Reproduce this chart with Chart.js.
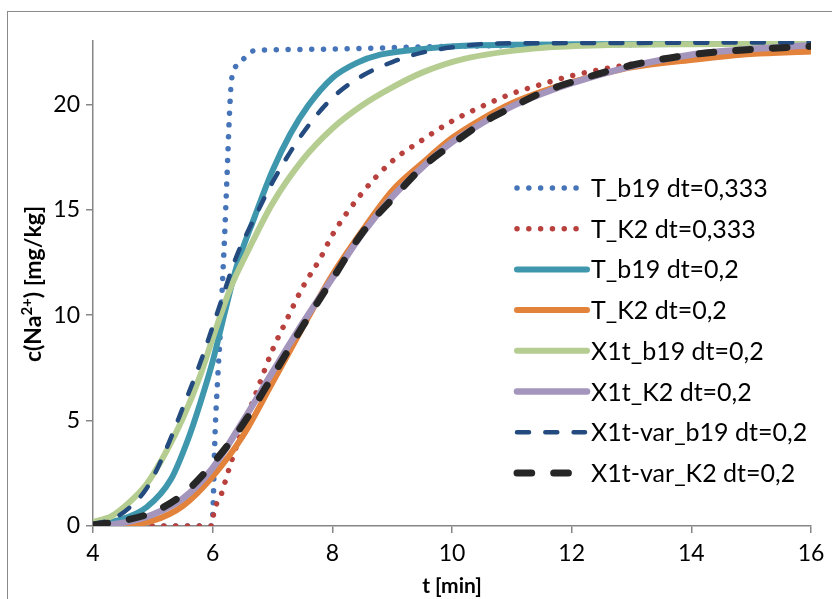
<!DOCTYPE html>
<html>
<head>
<meta charset="utf-8">
<script src="https://cdn.jsdelivr.net/npm/chart.js@4.4.1/dist/chart.umd.min.js"></script>
<style>
  html, body { margin: 0; padding: 0; background: #fff; }
  #wrap { position: relative; width: 832px; height: 599px; overflow: hidden; }
  #frame { position: absolute; left: 7px; top: 11px; right: -10px; bottom: -10px;
           border-left: 1.5px solid #8a8a8a; border-top: 1.5px solid #8a8a8a; }
  canvas { position: absolute; left: 0; top: 0; }
</style>
</head>
<body>
<div id="wrap">
  <div id="frame"></div>
  <canvas id="chart" width="832" height="599"></canvas>
</div>
<script>
// --- dados ---
const seriesNames = ['T_b19 dt=0,333', 'T_K2 dt=0,333', 'T_b19 dt=0,2', 'T_K2 dt=0,2',
                     'X1t_b19 dt=0,2', 'X1t_K2 dt=0,2', 'X1t-var_b19 dt=0,2', 'X1t-var_K2 dt=0,2'];

const tB19_333 = [4, 5.97, 6.0, 6.04, 6.08, 6.12, 6.16, 6.2, 6.24, 6.28, 6.31, 6.37, 6.5, 6.65, 6.8, 7.5, 8.5, 10, 12, 14, 16];
const cB19_333 = [0, 0, 0.45, 4.4, 6.8, 8.8, 11.3, 13.8, 16.6, 19.5, 21.0, 21.7, 22.1, 22.5, 22.57, 22.6, 22.65, 22.75, 22.8, 22.85, 22.87];

const tK2_333 = [4, 5.99, 6.0, 6.15, 6.3, 6.5, 6.75, 7.0, 7.25, 7.5, 7.8, 8.0, 8.5, 9.0, 9.5, 10, 10.5, 11, 11.5, 12, 13, 14, 15, 16];
const cK2_333 = [0, 0, 0.3, 1.55, 2.95, 4.6, 6.5, 8.35, 9.85, 11.3, 12.7, 13.8, 15.8, 17.3, 18.3, 19.2, 19.9, 20.5, 20.95, 21.35, 21.9, 22.2, 22.45, 22.6];

const tB19_2 = [4, 4.4, 4.9, 5.3, 5.6, 5.8, 6.0, 6.2, 6.4, 6.7, 7.0, 7.3, 7.6, 8.0, 8.4, 8.8, 9.6, 10.2, 11, 12, 14, 16];
const cB19_2 = [0.05, 0.25, 0.9, 2.2, 4.2, 5.9, 7.8, 10.1, 12.3, 14.65, 16.85, 18.6, 19.95, 21.25, 21.95, 22.35, 22.65, 22.78, 22.82, 22.84, 22.86, 22.87];

const tK2_2 = [4, 4.5, 5.0, 5.5, 6.0, 6.5, 7.0, 7.5, 8.0, 8.5, 9.0, 9.5, 10, 10.5, 11, 11.5, 12, 13, 14, 15, 16];
const cK2_2 = [0, 0.03, 0.25, 0.95, 2.35, 4.25, 6.8, 9.4, 11.9, 14.0, 15.9, 17.2, 18.4, 19.3, 20.05, 20.6, 21.05, 21.75, 22.1, 22.38, 22.5];

const tX1b19 = [4, 4.3, 4.6, 4.9, 5.2, 5.5, 5.8, 6.0, 6.3, 6.6, 7.0, 7.5, 8.0, 8.5, 9.0, 9.5, 10.2, 11.4, 12.5, 14, 16];
const cX1b19 = [0.2, 0.45, 1.1, 2.0, 3.4, 5.1, 7.2, 8.9, 11.3, 13.1, 15.3, 17.35, 18.85, 19.95, 20.8, 21.5, 22.15, 22.65, 22.8, 22.85, 22.87];

const tX1K2 = [4, 4.5, 5.0, 5.5, 6.0, 6.5, 7.0, 7.5, 8.0, 8.5, 9.0, 9.5, 10, 10.5, 11, 11.5, 12, 13, 14, 15, 16];
const cX1K2 = [0, 0.15, 0.55, 1.3, 2.75, 4.95, 7.3, 9.6, 11.75, 13.85, 15.6, 17.0, 18.2, 19.1, 19.9, 20.5, 21.0, 21.8, 22.35, 22.62, 22.8];

const tVarB19 = [4, 4.3, 4.6, 4.9, 5.2, 5.5, 5.8, 6.1, 6.4, 6.7, 7.0, 7.5, 8.0, 8.5, 9.0, 9.5, 10.0, 10.7, 12, 14, 16];
const cVarB19 = [0.1, 0.3, 0.85, 1.8, 3.5, 5.6, 7.8, 10.3, 12.8, 14.6, 16.3, 18.6, 20.3, 21.35, 22.0, 22.45, 22.7, 22.88, 22.9, 22.92, 22.93];

const tVarK2 = [4, 4.5, 5.0, 5.5, 6.0, 6.5, 7.0, 7.5, 8.0, 8.5, 9.0, 9.5, 10, 10.5, 11, 11.5, 12, 13, 14, 15, 16];
const cVarK2 = [0.05, 0.25, 0.65, 1.5, 2.95, 4.8, 7.1, 9.45, 11.7, 13.9, 15.5, 17.0, 18.1, 19.1, 19.85, 20.55, 21.05, 21.85, 22.35, 22.6, 22.75];

const xTicks = [4, 6, 8, 10, 12, 14, 16];
const yTicks = [0, 5, 10, 15, 20];

// --- estilos ---
const seriesT = [tB19_333, tK2_333, tB19_2, tK2_2, tX1b19, tX1K2, tVarB19, tVarK2];
const seriesC = [cB19_333, cK2_333, cB19_2, cK2_2, cX1b19, cX1K2, cVarB19, cVarK2];
const colors  = ['#4674b8', '#b8403d', '#3f97ae', '#e2823b', '#b5cd91', '#a495bd', '#244b7f', '#262626'];
const widths  = [5.5, 5.5, 6, 6, 6, 6.5, 4.5, 7];
const dashes  = [[0.01, 11.8], [0.01, 11.8], [], [], [], [], [12, 16.3], [14.7, 22]];
const legendEnd = [580, 580, 587, 587, 587, 587, 585, 570];
const FONT = 'Lato, "Liberation Sans", sans-serif';

Chart.defaults.font.family = FONT;
Chart.defaults.color = '#000';

const datasets = seriesNames.map((name, i) => ({
    label: name,
    data: seriesT[i].map((t, k) => ({ x: t, y: seriesC[i][k] })),
    borderColor: colors[i],
    borderWidth: widths[i],
    borderDash: dashes[i],
    borderCapStyle: 'round',
    borderJoinStyle: 'round',
    pointRadius: 0,
    fill: false,
    cubicInterpolationMode: 'monotone',
    order: seriesNames.length - i   // Excel: a primeira série fica por baixo
}));

// legenda dentro da área do gráfico + título do eixo y com sobrescrito
const extras = {
    id: 'extras',
    afterDatasetsDraw(chart) {
        const ctx = chart.ctx;
        chart.data.datasets.forEach((ds, i) => {
            const y = 188 + i * 40.7;
            ctx.save();
            ctx.strokeStyle = ds.borderColor;
            ctx.lineWidth = ds.borderWidth;
            ctx.lineCap = 'round';
            ctx.setLineDash(ds.borderDash);
            ctx.beginPath();
            ctx.moveTo(517, y);
            ctx.lineTo(legendEnd[i], y);
            ctx.stroke();
            ctx.setLineDash([]);
            ctx.fillStyle = '#000';
            ctx.font = '25px ' + FONT;
            ctx.textBaseline = 'middle';
            ctx.fillText(ds.label, 591, y + 1);
            ctx.restore();
        });

        // c(Na2+) [mg/kg]
        const parts = [['c(Na', 'bold 23px ' + FONT, 0], ['2+', 'bold 15px ' + FONT, -7], [') [mg/kg]', 'bold 23px ' + FONT, 0]];
        ctx.save();
        ctx.translate(34, 284);
        ctx.rotate(-Math.PI / 2);
        ctx.fillStyle = '#000';
        ctx.textBaseline = 'middle';
        let total = 0;
        parts.forEach(p => { ctx.font = p[1]; total += ctx.measureText(p[0]).width; });
        let x = -total / 2;
        parts.forEach(p => { ctx.font = p[1]; ctx.fillText(p[0], x, p[2]); x += ctx.measureText(p[0]).width; });
        ctx.restore();
    }
};

new Chart(document.getElementById('chart'), {
    type: 'line',
    data: { datasets },
    plugins: [extras],
    options: {
        responsive: false,
        animation: false,
        layout: { padding: { left: 0, top: 41, right: 21, bottom: 0 } },
        plugins: { legend: { display: false }, tooltip: { enabled: false } },
        scales: {
            x: {
                type: 'linear', min: 4, max: 16,
                afterBuildTicks: s => { s.ticks = xTicks.map(v => ({ value: v })); },
                afterFit: s => { s.height = 73; },
                grid: { display: true, drawOnChartArea: false, drawTicks: true, tickLength: 7, color: '#868686', lineWidth: 1.5 },
                border: { display: true, color: '#868686', width: 1.5 },
                ticks: { font: { size: 23 }, padding: 7, maxRotation: 0 },
                title: { display: true, text: 't [min]', font: { size: 21, weight: 'bold' }, padding: { top: 8, bottom: 0 } }
            },
            y: {
                min: 0, max: 23,
                afterBuildTicks: s => { s.ticks = yTicks.map(v => ({ value: v })); },
                afterFit: s => { s.width = 93; },
                grid: { display: true, drawOnChartArea: false, drawTicks: true, tickLength: 7, color: '#868686', lineWidth: 1.5 },
                border: { display: true, color: '#868686', width: 1.5 },
                ticks: { font: { size: 23 }, padding: 6 }
            }
        }
    }
});
</script>
</body>
</html>
